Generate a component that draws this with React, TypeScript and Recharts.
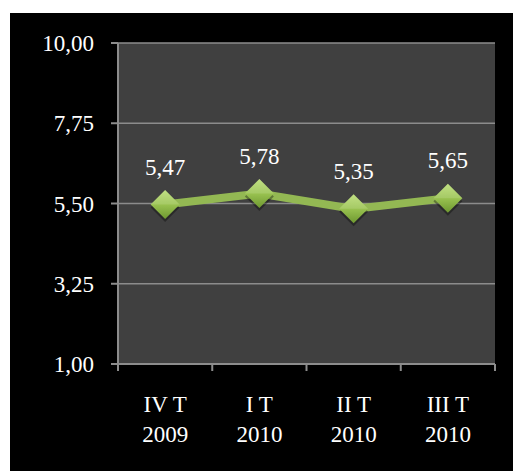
import { LineChart, Line, XAxis, YAxis, CartesianGrid, LabelList } from 'recharts';

const quarters = ['IV T', 'I T', 'II T', 'III T'];
const years = ['2009', '2010', '2010', '2010'];
const values = [5.47, 5.78, 5.35, 5.65];
const yTicks = [1, 3.25, 5.5, 7.75, 10];

// each quarter sits in the middle of its slot, tick marks on the slot edges
const chartData = values.map((v, i) => ({ slot: i + 0.5, value: v }));
const xTicks = Array.from({ length: quarters.length * 2 + 1 }, (_, i) => i / 2);

const FONT = '"Liberation Serif", "Times New Roman", serif';
const AXIS = '#8c8c8c';

const fmt = (v: number) => v.toFixed(2).replace('.', ',');

function XTick({ x, y, payload }: any) {
  const v = payload.value as number;
  if (Number.isInteger(v)) {
    return <line x1={x} x2={x} y1={y} y2={y + 7} stroke={AXIS} strokeWidth={2} />;
  }
  const i = Math.floor(v);
  return (
    <text x={x} y={y} textAnchor="middle" fill="#fff" fontSize={23} fontFamily={FONT}>
      <tspan x={x} dy={48}>{quarters[i]}</tspan>
      <tspan x={x} dy={30}>{years[i]}</tspan>
    </text>
  );
}

function Diamond({ cx, cy }: any) {
  if (cx == null || cy == null) return null;
  const r = 14.5;
  return (
    <g>
      <path
        d={`M${cx},${cy - r + 3} L${cx + r},${cy + 3} L${cx},${cy + r + 3} L${cx - r},${cy + 3} Z`}
        fill="rgba(0,0,0,0.35)"
      />
      <path d={`M${cx},${cy - r} L${cx + r},${cy} L${cx},${cy + r} L${cx - r},${cy} Z`} fill="url(#diamondFill)" />
      <path d={`M${cx - r},${cy} L${cx},${cy - r} L${cx + r},${cy} Z`} fill="rgba(255,255,255,0.12)" />
    </g>
  );
}

function ValueLabel({ x, y, value }: any) {
  return (
    <text x={x} y={y - 30} textAnchor="middle" fill="#fff" fontSize={23} fontFamily={FONT}>
      {fmt(value)}
    </text>
  );
}

export default function App() {
  return (
    <div style={{ position: 'fixed', left: 10, top: 13, width: 503, height: 458, background: '#000' }}>
      <LineChart width={503} height={458} data={chartData} margin={{ top: 30, right: 18, left: 0, bottom: 0 }}>
        <defs>
          <linearGradient id="diamondFill" x1="0" y1="0" x2="0" y2="1">
            <stop offset="0%" stopColor="#b9dc72" />
            <stop offset="50%" stopColor="#99c250" />
            <stop offset="100%" stopColor="#6e9830" />
          </linearGradient>
        </defs>
        <CartesianGrid vertical={false} fill="#404040" stroke={AXIS} strokeWidth={1.5} />
        <XAxis
          dataKey="slot"
          type="number"
          domain={[0, quarters.length]}
          ticks={xTicks}
          interval={0}
          tick={<XTick />}
          tickLine={false}
          tickSize={0}
          tickMargin={0}
          axisLine={{ stroke: AXIS, strokeWidth: 2 }}
          height={107}
        />
        <YAxis
          domain={[1, 10]}
          ticks={yTicks}
          interval={0}
          tickFormatter={fmt}
          tick={{ fill: '#fff', fontSize: 23, fontFamily: FONT }}
          tickLine={{ stroke: AXIS, strokeWidth: 2 }}
          tickSize={7}
          tickMargin={17}
          axisLine={{ stroke: AXIS, strokeWidth: 2 }}
          width={108}
        />
        <Line
          dataKey="value"
          stroke="#93b853"
          strokeWidth={8}
          dot={<Diamond />}
          activeDot={false}
          isAnimationActive={false}
        >
          <LabelList dataKey="value" content={<ValueLabel />} />
        </Line>
      </LineChart>
    </div>
  );
}
